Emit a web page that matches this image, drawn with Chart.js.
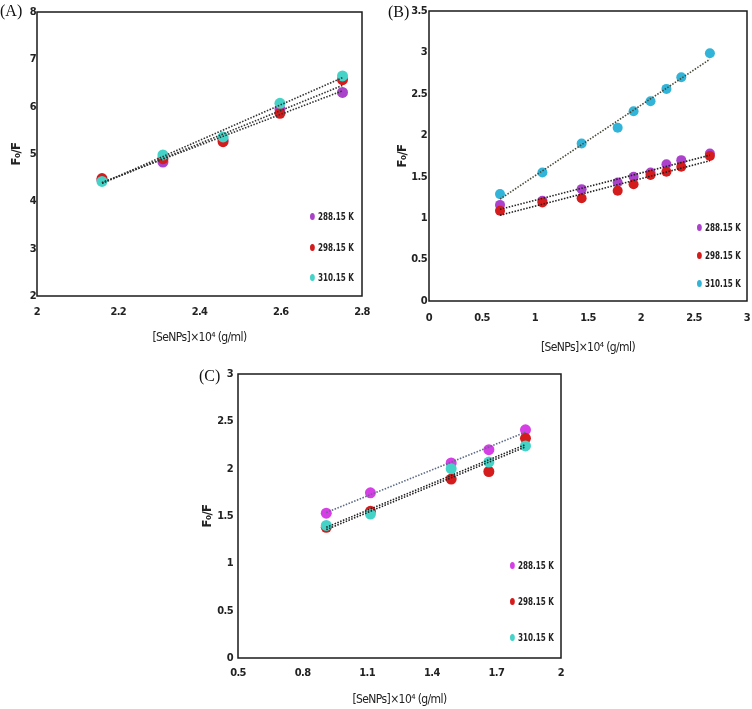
<!DOCTYPE html>
<html>
<head>
<meta charset="utf-8">
<script src="https://cdn.jsdelivr.net/npm/chart.js@4.4.1/dist/chart.umd.min.js"></script>
<style>
  body { margin: 0; background: #fff; width: 752px; height: 709px; position: relative; overflow: hidden; }
  .box { position: absolute; }
  .tag { position: absolute; font-family: 'Liberation Serif', 'DejaVu Serif', serif; font-size: 16px; color: #111; }
  .lg { position: absolute; font-family: 'DejaVu Sans Condensed', sans-serif; font-weight: bold; font-size: 10px; color: #222;
        white-space: nowrap; transform: scaleX(0.8); transform-origin: 0 50%; }
  .lg i { display: inline-block; width: 6px; height: 7px; border-radius: 50%; margin-right: 4px; vertical-align: 0px; }
</style>
</head>
<body>

<div class="box" style="left:0;top:0;width:370px;height:345px"><canvas id="chartA"></canvas></div>
<div class="box" style="left:376px;top:0;width:376px;height:360px"><canvas id="chartB"></canvas></div>
<div class="box" style="left:190px;top:360px;width:400px;height:349px"><canvas id="chartC"></canvas></div>

<div class="tag" style="left:0;top:2px">(A)</div>
<div class="tag" style="left:388px;top:3px">(B)</div>
<div class="tag" style="left:199px;top:367px">(C)</div>

<div id="legends"></div>

<script>
const tempLabels = ['288.15 K', '298.15 K', '310.15 K'];

// (A)
const xA = [2.16, 2.31, 2.458, 2.598, 2.752];
const a288 = [4.45, 4.83, 5.30, 5.95, 6.30];
const a298 = [4.48, 4.90, 5.26, 5.86, 6.57];
const a310 = [4.42, 4.98, 5.36, 6.07, 6.65];
const xTicksA = [2, 2.2, 2.4, 2.6, 2.8];
const yTicksA = [2, 3, 4, 5, 6, 7, 8];

// (B)
const xB = [0.67, 1.07, 1.44, 1.78, 1.93, 2.09, 2.24, 2.38, 2.65];
const b288 = [1.16, 1.21, 1.35, 1.43, 1.50, 1.55, 1.65, 1.70, 1.78];
const b298 = [1.09, 1.19, 1.24, 1.33, 1.41, 1.52, 1.56, 1.62, 1.75];
const b310 = [1.29, 1.55, 1.90, 2.09, 2.29, 2.41, 2.56, 2.70, 2.99];
const xTicksB = [0, 0.5, 1, 1.5, 2, 2.5, 3];
const yTicksB = [0, 0.5, 1, 1.5, 2, 2.5, 3, 3.5];

// (C)
const xC = [0.91, 1.115, 1.49, 1.665, 1.835];
const c288 = [1.53, 1.745, 2.06, 2.20, 2.41];
const c298 = [1.38, 1.55, 1.89, 1.97, 2.32];
const c310 = [1.40, 1.52, 2.00, 2.07, 2.24];
const xTicksC = [0.5, 0.8, 1.1, 1.4, 1.7, 2];
const yTicksC = [0, 0.5, 1, 1.5, 2, 2.5, 3];

const narrow = "'DejaVu Sans Condensed', sans-serif";

// black frame round the plot area, tighter letters for the axis text
const frame = {
  id: 'frame',
  beforeDraw(chart) {
    chart.ctx.letterSpacing = '-0.6px';
  },
  afterDraw(chart) {
    const a = chart.chartArea, c = chart.ctx;
    c.save();
    c.strokeStyle = '#1a1a1a';
    c.lineWidth = 1.5;
    c.strokeRect(a.left, a.top, a.right - a.left, a.bottom - a.top);
    c.restore();
  }
};

function fit(xs, ys) {
  const n = xs.length;
  const mx = xs.reduce((s, v) => s + v, 0) / n;
  const my = ys.reduce((s, v) => s + v, 0) / n;
  let sxy = 0, sxx = 0;
  xs.forEach((x, i) => { sxy += (x - mx) * (ys[i] - my); sxx += (x - mx) * (x - mx); });
  const b = sxy / sxx, a = my - b * mx;
  const x0 = Math.min(...xs), x1 = Math.max(...xs);
  return [{ x: x0, y: a + b * x0 }, { x: x1, y: a + b * x1 }];
}

const fmt = v => String(parseFloat(Number(v).toFixed(2)));

function makeChart(id, p) {
  const datasets = [];
  p.series.forEach((ys, i) => {
    datasets.push({
      label: tempLabels[i],
      data: p.xs.map((x, j) => ({ x: x, y: ys[j] })),
      showLine: false,
      pointRadius: p.r,
      pointHoverRadius: p.r,
      pointBorderWidth: 0,
      backgroundColor: p.colors[i],
      borderColor: p.colors[i],
      order: p.order[i]
    });
    datasets.push({
      label: 'trend ' + tempLabels[i],
      data: fit(p.xs, ys),
      showLine: true,
      pointRadius: 0,
      borderColor: p.lineColors[i],
      borderWidth: 1.6,
      borderDash: [1.5, 1.5],
      order: 0
    });
  });

  return new Chart(document.getElementById(id), {
    type: 'scatter',
    data: { datasets: datasets },
    options: {
      responsive: true,
      maintainAspectRatio: false,
      animation: false,
      layout: { padding: p.pad },
      plugins: { legend: { display: false }, tooltip: { enabled: false } },
      scales: {
        x: {
          min: p.xTicks[0], max: p.xTicks[p.xTicks.length - 1],
          afterBuildTicks: s => { s.ticks = p.xTicks.map(v => ({ value: v })); },
          afterFit: s => { s.height = p.xh; s.paddingLeft = 0; s.paddingRight = 0; },
          grid: { display: false, drawTicks: false }, border: { display: false },
          ticks: { color: '#222', padding: p.xpad, callback: fmt, font: { family: narrow, weight: 'bold', size: 11 } },
          title: { display: true, text: '[SeNPs]×10⁴ (g/ml)', color: '#222', padding: { top: 0, bottom: p.xtb },
                   font: { family: narrow, size: 12 } }
        },
        y: {
          min: p.yTicks[0], max: p.yTicks[p.yTicks.length - 1],
          afterBuildTicks: s => { s.ticks = p.yTicks.map(v => ({ value: v })); },
          afterFit: s => { s.width = p.yw; s.paddingTop = 0; s.paddingBottom = 0; },
          grid: { display: false, drawTicks: false }, border: { display: false },
          ticks: { color: '#222', padding: p.ypad, callback: fmt, font: { family: narrow, weight: 'bold', size: 11 } },
          title: { display: true, text: 'F₀/F', color: '#222', padding: { top: p.ytp, bottom: 0 },
                   font: { family: narrow, weight: 'bold', size: 13 } }
        }
      }
    },
    plugins: [frame]
  });
}

makeChart('chartA', {
  xs: xA, series: [a288, a298, a310],
  colors: ['#a943c9', '#d41c1c', '#45d3c8'],
  lineColors: ['#333', '#333', '#333'],
  order: [3, 2, 1], r: 5.5,
  xTicks: xTicksA, yTicks: yTicksA,
  pad: { top: 12, right: 8, left: 0, bottom: 0 },
  yw: 37, xh: 49, xpad: 10, ypad: 1, xtb: 0, ytp: 9
});

makeChart('chartB', {
  xs: xB, series: [b288, b298, b310],
  colors: ['#ac41cc', '#d41c1c', '#31b4d8'],
  lineColors: ['#222', '#222', '#4a4a3a'],
  order: [2, 1, 3], r: 5,
  xTicks: xTicksB, yTicks: yTicksB,
  pad: { top: 11, right: 3, left: 0, bottom: 0 },
  yw: 53, xh: 59, xpad: 11, ypad: 2, xtb: 5, ytp: 19
});

makeChart('chartC', {
  xs: xC, series: [c288, c298, c310],
  colors: ['#d63fe6', '#d41c1c', '#45d3c8'],
  lineColors: ['#5d6b85', '#222', '#222'],
  order: [3, 2, 1], r: 5.5,
  xTicks: xTicksC, yTicks: yTicksC,
  pad: { top: 14, right: 29, left: 0, bottom: 0 },
  yw: 48, xh: 51, xpad: 9, ypad: 5, xtb: 2, ytp: 10
});

// legends inside the plot areas
const legendSpots = [
  { left: 310, tops: [211, 242, 272], colors: ['#a943c9', '#d41c1c', '#45d3c8'] },
  { left: 697, tops: [222, 250, 278], colors: ['#ac41cc', '#d41c1c', '#31b4d8'] },
  { left: 510, tops: [560, 596, 632], colors: ['#d63fe6', '#d41c1c', '#45d3c8'] }
];
const lgRoot = document.getElementById('legends');
legendSpots.forEach(spot => {
  tempLabels.forEach((t, i) => {
    const d = document.createElement('div');
    d.className = 'lg';
    d.style.left = spot.left + 'px';
    d.style.top = spot.tops[i] + 'px';
    d.innerHTML = '<i style="background:' + spot.colors[i] + '"></i>' + t;
    lgRoot.appendChild(d);
  });
});
</script>
</body>
</html>
